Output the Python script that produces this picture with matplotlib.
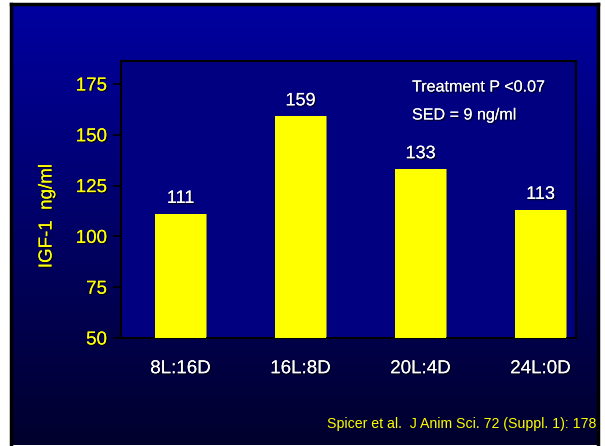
import matplotlib
matplotlib.use("Agg")
import matplotlib.pyplot as plt
import matplotlib.patheffects as pe
import numpy as np

# Data
categories = ["8L:16D", "16L:8D", "20L:4D", "24L:0D"]
igf1 = [111, 159, 133, 113]
yticks = [50, 75, 100, 125, 150, 175]

plt.rcParams['font.family'] = ['Liberation Sans', 'DejaVu Sans']

W, H = 605, 446
fig = plt.figure(figsize=(W / 100, H / 100), dpi=100, facecolor='white')

# Slide background with vertical gradient
bg = fig.add_axes([11 / W, 1 / H, 587 / W, 441 / H])
grad = np.linspace(0, 1, 256).reshape(-1, 1)
top = np.array([0, 0, 160]) / 255
bot = np.array([0, 0, 45]) / 255
img = top + (bot - top) * grad[..., None]
bg.imshow(img, aspect='auto', extent=[0, 1, 0, 1])
bg.set_xticks([])
bg.set_yticks([])
for s in bg.spines.values():
    s.set_color('black')
    s.set_linewidth(2.5)
bg.spines['bottom'].set_visible(False)

shadow = [pe.withSimplePatchShadow(offset=(1, -1), shadow_rgbFace='black', alpha=0.7), pe.Normal()]

ax = fig.add_axes([121 / W, (H - 338) / H, (576 - 121) / W, (338 - 61) / H])
ax.set_facecolor('#000080')
x = np.arange(len(categories))
width = 0.417

# slight olive shadow on bar right edge
ax.bar(x + 0.015, np.array(igf1) - 50, bottom=50, width=width, color='#8a8a00', zorder=2)
ax.bar(x, np.array(igf1) - 50, bottom=50, width=width, color='#ffff00', zorder=3)

for xi, v in zip(x, igf1):
    ax.text(xi, v + 3.5, str(v), ha='center', va='bottom', color='white',
            fontsize=13, path_effects=shadow, zorder=4)

ax.set_xlim(-0.496, 3.296)
ax.set_ylim(50, 186.3)
ax.set_yticks(yticks)
ax.set_yticklabels([str(t) for t in yticks], color='#ffff00', fontsize=13.5)
for lbl in ax.get_yticklabels():
    lbl.set_path_effects(shadow)
ax.tick_params(axis='y', length=6, width=1.2, color='black', pad=4)
ax.set_xticks(x)
ax.set_xticklabels(categories, color='white', fontsize=13.5)
for lbl in ax.get_xticklabels():
    lbl.set_path_effects(shadow)
ax.tick_params(axis='x', length=0, pad=16)
for s in ax.spines.values():
    s.set_color('black')
    s.set_linewidth(1.5)

ax.text(412 / W, 1 - 87 / H, "Treatment P <0.07", transform=fig.transFigure,
        color='white', fontsize=11.6, va='center', ha='left', path_effects=shadow)
ax.text(412 / W, 1 - 115 / H, "SED = 9 ng/ml", transform=fig.transFigure,
        color='white', fontsize=11.6, va='center', ha='left', path_effects=shadow)

fig.text(47 / W, 1 - 216 / H, "IGF-1  ng/ml", rotation=90, color='#ffff00',
         fontsize=13.5, ha='center', va='center', path_effects=shadow)

fig.text(596 / W, 1 - 424 / H, "Spicer et al.  J Anim Sci. 72 (Suppl. 1): 178",
         color='#ffff00', fontsize=10.2, ha='right', va='center')

fig.savefig("out.png", dpi=100, facecolor='white')
